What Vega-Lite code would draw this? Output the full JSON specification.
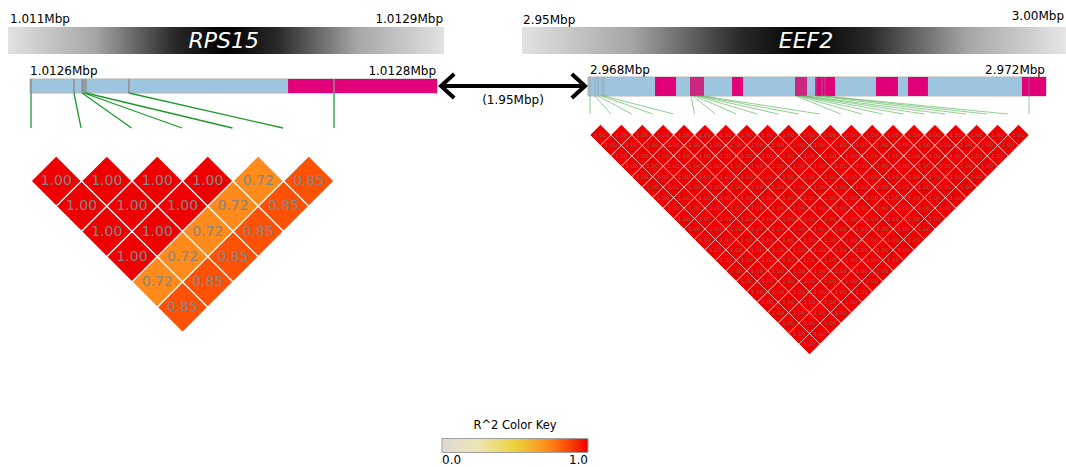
{
  "$schema": "https://vega.github.io/schema/vega-lite/v6.json",
  "width": 1066,
  "height": 467,
  "autosize": "none",
  "padding": 0,
  "background": "white",
  "config": {
    "view": {"stroke": null},
    "font": "DejaVu Sans",
    "axis": {"disable": true},
    "legend": {
      "orient": "none",
      "legendX": 442,
      "legendY": 420,
      "direction": "horizontal",
      "gradientLength": 146,
      "gradientThickness": 14,
      "gradientStrokeColor": "#a0a0a0",
      "gradientStrokeWidth": 1,
      "titleFontWeight": "normal",
      "titleFontSize": 11.5,
      "titleColor": "black",
      "titleAnchor": "middle",
      "titlePadding": 7,
      "labelFontSize": 12,
      "labelColor": "black",
      "labelAlign": "center",
      "labelOffset": 2
    }
  },
  "datasets": {
    "rps15Gene": [{"gene": "RPS15", "track": "gene", "start": 1.011, "end": 1.0129, "startLabel": "1.011Mbp", "endLabel": "1.0129Mbp"}],
    "eef2Gene": [{"gene": "EEF2", "track": "gene", "start": 2.95, "end": 3.0, "startLabel": "2.95Mbp", "endLabel": "3.00Mbp"}],
    "rps15Tx": [{"track": "tx", "start": 1.0126, "end": 1.0128, "startLabel": "1.0126Mbp", "endLabel": "1.0128Mbp"}],
    "rps15Exons": [{"track": "tx", "start": 1.0127268, "end": 1.0128}],
    "rps15Snps": [
      {"track": "tx", "snp": 1, "pos": 1.0126005, "ldpos": 1.0126005},
      {"track": "tx", "snp": 2, "pos": 1.0126216, "ldpos": 1.0126251},
      {"track": "tx", "snp": 3, "pos": 1.0126256, "ldpos": 1.0126499},
      {"track": "tx", "snp": 4, "pos": 1.0126265, "ldpos": 1.0126747},
      {"track": "tx", "snp": 5, "pos": 1.0126275, "ldpos": 1.0126995},
      {"track": "tx", "snp": 6, "pos": 1.0126486, "ldpos": 1.0127243},
      {"track": "tx", "snp": 7, "pos": 1.0127494, "ldpos": 1.0127494}
    ],
    "rps15Ld": [
      {"mid": 0.5, "gap": 1, "r2": 1.0}, {"mid": 1.5, "gap": 1, "r2": 1.0}, {"mid": 2.5, "gap": 1, "r2": 1.0},
      {"mid": 3.5, "gap": 1, "r2": 1.0}, {"mid": 4.5, "gap": 1, "r2": 0.72}, {"mid": 5.5, "gap": 1, "r2": 0.85},
      {"mid": 1, "gap": 2, "r2": 1.0}, {"mid": 2, "gap": 2, "r2": 1.0}, {"mid": 3, "gap": 2, "r2": 1.0},
      {"mid": 4, "gap": 2, "r2": 0.72}, {"mid": 5, "gap": 2, "r2": 0.85},
      {"mid": 1.5, "gap": 3, "r2": 1.0}, {"mid": 2.5, "gap": 3, "r2": 1.0}, {"mid": 3.5, "gap": 3, "r2": 0.72},
      {"mid": 4.5, "gap": 3, "r2": 0.85},
      {"mid": 2, "gap": 4, "r2": 1.0}, {"mid": 3, "gap": 4, "r2": 0.72}, {"mid": 4, "gap": 4, "r2": 0.85},
      {"mid": 2.5, "gap": 5, "r2": 0.72}, {"mid": 3.5, "gap": 5, "r2": 0.85},
      {"mid": 3, "gap": 6, "r2": 0.85}
    ],
    "eef2Tx": [{"track": "tx", "start": 2.968, "end": 2.972, "startLabel": "2.968Mbp", "endLabel": "2.972Mbp"}],
    "eef2Exons": [
      {"track": "tx", "start": 2.968585, "end": 2.968769},
      {"track": "tx", "start": 2.968891, "end": 2.969013},
      {"track": "tx", "start": 2.969258, "end": 2.969354},
      {"track": "tx", "start": 2.969808, "end": 2.969913},
      {"track": "tx", "start": 2.969983, "end": 2.970157},
      {"track": "tx", "start": 2.970515, "end": 2.970707},
      {"track": "tx", "start": 2.970795, "end": 2.970969},
      {"track": "tx", "start": 2.97179, "end": 2.972}
    ],
    "eef2Snps": [
      {"track": "tx", "snp": 1, "pos": 2.9680175, "ldpos": 2.9680175},
      {"track": "tx", "snp": 2, "pos": 2.9680611, "ldpos": 2.9682},
      {"track": "tx", "snp": 3, "pos": 2.9680873, "ldpos": 2.9683825},
      {"track": "tx", "snp": 4, "pos": 2.9681223, "ldpos": 2.9685651},
      {"track": "tx", "snp": 5, "pos": 2.9681397, "ldpos": 2.9687476},
      {"track": "tx", "snp": 6, "pos": 2.9688996, "ldpos": 2.9689301},
      {"track": "tx", "snp": 7, "pos": 2.968917, "ldpos": 2.9691127},
      {"track": "tx", "snp": 8, "pos": 2.9689345, "ldpos": 2.9692952},
      {"track": "tx", "snp": 9, "pos": 2.968952, "ldpos": 2.9694777},
      {"track": "tx", "snp": 10, "pos": 2.9689694, "ldpos": 2.9696603},
      {"track": "tx", "snp": 11, "pos": 2.9689869, "ldpos": 2.9698428},
      {"track": "tx", "snp": 12, "pos": 2.9690044, "ldpos": 2.9700253},
      {"track": "tx", "snp": 13, "pos": 2.9698166, "ldpos": 2.9702079},
      {"track": "tx", "snp": 14, "pos": 2.9698341, "ldpos": 2.9703904},
      {"track": "tx", "snp": 15, "pos": 2.9698515, "ldpos": 2.9705729},
      {"track": "tx", "snp": 16, "pos": 2.969869, "ldpos": 2.9707555},
      {"track": "tx", "snp": 17, "pos": 2.9698865, "ldpos": 2.970938},
      {"track": "tx", "snp": 18, "pos": 2.9699039, "ldpos": 2.9711205},
      {"track": "tx", "snp": 19, "pos": 2.9699913, "ldpos": 2.9713031},
      {"track": "tx", "snp": 20, "pos": 2.9700437, "ldpos": 2.9714856},
      {"track": "tx", "snp": 21, "pos": 2.9700699, "ldpos": 2.9716681},
      {"track": "tx", "snp": 22, "pos": 2.9718515, "ldpos": 2.9718515}
    ],
    "eef2Ld": [
      {"mid": 0.5, "gap": 1, "r2": 1.0}, {"mid": 1.5, "gap": 1, "r2": 1.0}, {"mid": 2.5, "gap": 1, "r2": 1.0}, {"mid": 3.5, "gap": 1, "r2": 1.0},
      {"mid": 4.5, "gap": 1, "r2": 1.0}, {"mid": 5.5, "gap": 1, "r2": 1.0}, {"mid": 6.5, "gap": 1, "r2": 1.0}, {"mid": 7.5, "gap": 1, "r2": 1.0},
      {"mid": 8.5, "gap": 1, "r2": 1.0}, {"mid": 9.5, "gap": 1, "r2": 1.0}, {"mid": 10.5, "gap": 1, "r2": 1.0}, {"mid": 11.5, "gap": 1, "r2": 1.0},
      {"mid": 12.5, "gap": 1, "r2": 1.0}, {"mid": 13.5, "gap": 1, "r2": 1.0}, {"mid": 14.5, "gap": 1, "r2": 1.0}, {"mid": 15.5, "gap": 1, "r2": 1.0},
      {"mid": 16.5, "gap": 1, "r2": 1.0}, {"mid": 17.5, "gap": 1, "r2": 1.0}, {"mid": 18.5, "gap": 1, "r2": 1.0}, {"mid": 19.5, "gap": 1, "r2": 1.0},
      {"mid": 20.5, "gap": 1, "r2": 1.0},
      {"mid": 1, "gap": 2, "r2": 1.0}, {"mid": 2, "gap": 2, "r2": 1.0}, {"mid": 3, "gap": 2, "r2": 1.0}, {"mid": 4, "gap": 2, "r2": 1.0},
      {"mid": 5, "gap": 2, "r2": 1.0}, {"mid": 6, "gap": 2, "r2": 1.0}, {"mid": 7, "gap": 2, "r2": 1.0}, {"mid": 8, "gap": 2, "r2": 1.0},
      {"mid": 9, "gap": 2, "r2": 1.0}, {"mid": 10, "gap": 2, "r2": 1.0}, {"mid": 11, "gap": 2, "r2": 1.0}, {"mid": 12, "gap": 2, "r2": 1.0},
      {"mid": 13, "gap": 2, "r2": 1.0}, {"mid": 14, "gap": 2, "r2": 1.0}, {"mid": 15, "gap": 2, "r2": 1.0}, {"mid": 16, "gap": 2, "r2": 1.0},
      {"mid": 17, "gap": 2, "r2": 1.0}, {"mid": 18, "gap": 2, "r2": 1.0}, {"mid": 19, "gap": 2, "r2": 1.0}, {"mid": 20, "gap": 2, "r2": 1.0},
      {"mid": 1.5, "gap": 3, "r2": 1.0}, {"mid": 2.5, "gap": 3, "r2": 1.0}, {"mid": 3.5, "gap": 3, "r2": 1.0}, {"mid": 4.5, "gap": 3, "r2": 1.0},
      {"mid": 5.5, "gap": 3, "r2": 1.0}, {"mid": 6.5, "gap": 3, "r2": 1.0}, {"mid": 7.5, "gap": 3, "r2": 1.0}, {"mid": 8.5, "gap": 3, "r2": 1.0},
      {"mid": 9.5, "gap": 3, "r2": 1.0}, {"mid": 10.5, "gap": 3, "r2": 1.0}, {"mid": 11.5, "gap": 3, "r2": 1.0}, {"mid": 12.5, "gap": 3, "r2": 1.0},
      {"mid": 13.5, "gap": 3, "r2": 1.0}, {"mid": 14.5, "gap": 3, "r2": 1.0}, {"mid": 15.5, "gap": 3, "r2": 1.0}, {"mid": 16.5, "gap": 3, "r2": 1.0},
      {"mid": 17.5, "gap": 3, "r2": 1.0}, {"mid": 18.5, "gap": 3, "r2": 1.0}, {"mid": 19.5, "gap": 3, "r2": 1.0},
      {"mid": 2, "gap": 4, "r2": 1.0}, {"mid": 3, "gap": 4, "r2": 1.0}, {"mid": 4, "gap": 4, "r2": 1.0}, {"mid": 5, "gap": 4, "r2": 1.0},
      {"mid": 6, "gap": 4, "r2": 1.0}, {"mid": 7, "gap": 4, "r2": 1.0}, {"mid": 8, "gap": 4, "r2": 1.0}, {"mid": 9, "gap": 4, "r2": 1.0},
      {"mid": 10, "gap": 4, "r2": 1.0}, {"mid": 11, "gap": 4, "r2": 1.0}, {"mid": 12, "gap": 4, "r2": 1.0}, {"mid": 13, "gap": 4, "r2": 1.0},
      {"mid": 14, "gap": 4, "r2": 1.0}, {"mid": 15, "gap": 4, "r2": 1.0}, {"mid": 16, "gap": 4, "r2": 1.0}, {"mid": 17, "gap": 4, "r2": 1.0},
      {"mid": 18, "gap": 4, "r2": 1.0}, {"mid": 19, "gap": 4, "r2": 1.0},
      {"mid": 2.5, "gap": 5, "r2": 1.0}, {"mid": 3.5, "gap": 5, "r2": 1.0}, {"mid": 4.5, "gap": 5, "r2": 1.0}, {"mid": 5.5, "gap": 5, "r2": 1.0},
      {"mid": 6.5, "gap": 5, "r2": 1.0}, {"mid": 7.5, "gap": 5, "r2": 1.0}, {"mid": 8.5, "gap": 5, "r2": 1.0}, {"mid": 9.5, "gap": 5, "r2": 1.0},
      {"mid": 10.5, "gap": 5, "r2": 1.0}, {"mid": 11.5, "gap": 5, "r2": 1.0}, {"mid": 12.5, "gap": 5, "r2": 1.0}, {"mid": 13.5, "gap": 5, "r2": 1.0},
      {"mid": 14.5, "gap": 5, "r2": 1.0}, {"mid": 15.5, "gap": 5, "r2": 1.0}, {"mid": 16.5, "gap": 5, "r2": 1.0}, {"mid": 17.5, "gap": 5, "r2": 1.0},
      {"mid": 18.5, "gap": 5, "r2": 1.0},
      {"mid": 3, "gap": 6, "r2": 1.0}, {"mid": 4, "gap": 6, "r2": 1.0}, {"mid": 5, "gap": 6, "r2": 1.0}, {"mid": 6, "gap": 6, "r2": 1.0},
      {"mid": 7, "gap": 6, "r2": 1.0}, {"mid": 8, "gap": 6, "r2": 1.0}, {"mid": 9, "gap": 6, "r2": 1.0}, {"mid": 10, "gap": 6, "r2": 1.0},
      {"mid": 11, "gap": 6, "r2": 1.0}, {"mid": 12, "gap": 6, "r2": 1.0}, {"mid": 13, "gap": 6, "r2": 1.0}, {"mid": 14, "gap": 6, "r2": 1.0},
      {"mid": 15, "gap": 6, "r2": 1.0}, {"mid": 16, "gap": 6, "r2": 1.0}, {"mid": 17, "gap": 6, "r2": 1.0}, {"mid": 18, "gap": 6, "r2": 1.0},
      {"mid": 3.5, "gap": 7, "r2": 1.0}, {"mid": 4.5, "gap": 7, "r2": 1.0}, {"mid": 5.5, "gap": 7, "r2": 1.0}, {"mid": 6.5, "gap": 7, "r2": 1.0},
      {"mid": 7.5, "gap": 7, "r2": 1.0}, {"mid": 8.5, "gap": 7, "r2": 1.0}, {"mid": 9.5, "gap": 7, "r2": 1.0}, {"mid": 10.5, "gap": 7, "r2": 1.0},
      {"mid": 11.5, "gap": 7, "r2": 1.0}, {"mid": 12.5, "gap": 7, "r2": 1.0}, {"mid": 13.5, "gap": 7, "r2": 1.0}, {"mid": 14.5, "gap": 7, "r2": 1.0},
      {"mid": 15.5, "gap": 7, "r2": 1.0}, {"mid": 16.5, "gap": 7, "r2": 1.0}, {"mid": 17.5, "gap": 7, "r2": 1.0},
      {"mid": 4, "gap": 8, "r2": 1.0}, {"mid": 5, "gap": 8, "r2": 1.0}, {"mid": 6, "gap": 8, "r2": 1.0}, {"mid": 7, "gap": 8, "r2": 1.0},
      {"mid": 8, "gap": 8, "r2": 1.0}, {"mid": 9, "gap": 8, "r2": 1.0}, {"mid": 10, "gap": 8, "r2": 1.0}, {"mid": 11, "gap": 8, "r2": 1.0},
      {"mid": 12, "gap": 8, "r2": 1.0}, {"mid": 13, "gap": 8, "r2": 1.0}, {"mid": 14, "gap": 8, "r2": 1.0}, {"mid": 15, "gap": 8, "r2": 1.0},
      {"mid": 16, "gap": 8, "r2": 1.0}, {"mid": 17, "gap": 8, "r2": 1.0},
      {"mid": 4.5, "gap": 9, "r2": 1.0}, {"mid": 5.5, "gap": 9, "r2": 1.0}, {"mid": 6.5, "gap": 9, "r2": 1.0}, {"mid": 7.5, "gap": 9, "r2": 1.0},
      {"mid": 8.5, "gap": 9, "r2": 1.0}, {"mid": 9.5, "gap": 9, "r2": 1.0}, {"mid": 10.5, "gap": 9, "r2": 1.0}, {"mid": 11.5, "gap": 9, "r2": 1.0},
      {"mid": 12.5, "gap": 9, "r2": 1.0}, {"mid": 13.5, "gap": 9, "r2": 1.0}, {"mid": 14.5, "gap": 9, "r2": 1.0}, {"mid": 15.5, "gap": 9, "r2": 1.0},
      {"mid": 16.5, "gap": 9, "r2": 1.0},
      {"mid": 5, "gap": 10, "r2": 1.0}, {"mid": 6, "gap": 10, "r2": 1.0}, {"mid": 7, "gap": 10, "r2": 1.0}, {"mid": 8, "gap": 10, "r2": 1.0},
      {"mid": 9, "gap": 10, "r2": 1.0}, {"mid": 10, "gap": 10, "r2": 1.0}, {"mid": 11, "gap": 10, "r2": 1.0}, {"mid": 12, "gap": 10, "r2": 1.0},
      {"mid": 13, "gap": 10, "r2": 1.0}, {"mid": 14, "gap": 10, "r2": 1.0}, {"mid": 15, "gap": 10, "r2": 1.0}, {"mid": 16, "gap": 10, "r2": 1.0},
      {"mid": 5.5, "gap": 11, "r2": 1.0}, {"mid": 6.5, "gap": 11, "r2": 1.0}, {"mid": 7.5, "gap": 11, "r2": 1.0}, {"mid": 8.5, "gap": 11, "r2": 1.0},
      {"mid": 9.5, "gap": 11, "r2": 1.0}, {"mid": 10.5, "gap": 11, "r2": 1.0}, {"mid": 11.5, "gap": 11, "r2": 1.0}, {"mid": 12.5, "gap": 11, "r2": 1.0},
      {"mid": 13.5, "gap": 11, "r2": 1.0}, {"mid": 14.5, "gap": 11, "r2": 1.0}, {"mid": 15.5, "gap": 11, "r2": 1.0},
      {"mid": 6, "gap": 12, "r2": 1.0}, {"mid": 7, "gap": 12, "r2": 1.0}, {"mid": 8, "gap": 12, "r2": 1.0}, {"mid": 9, "gap": 12, "r2": 1.0},
      {"mid": 10, "gap": 12, "r2": 1.0}, {"mid": 11, "gap": 12, "r2": 1.0}, {"mid": 12, "gap": 12, "r2": 1.0}, {"mid": 13, "gap": 12, "r2": 1.0},
      {"mid": 14, "gap": 12, "r2": 1.0}, {"mid": 15, "gap": 12, "r2": 1.0},
      {"mid": 6.5, "gap": 13, "r2": 1.0}, {"mid": 7.5, "gap": 13, "r2": 1.0}, {"mid": 8.5, "gap": 13, "r2": 1.0}, {"mid": 9.5, "gap": 13, "r2": 1.0},
      {"mid": 10.5, "gap": 13, "r2": 1.0}, {"mid": 11.5, "gap": 13, "r2": 1.0}, {"mid": 12.5, "gap": 13, "r2": 1.0}, {"mid": 13.5, "gap": 13, "r2": 1.0},
      {"mid": 14.5, "gap": 13, "r2": 1.0},
      {"mid": 7, "gap": 14, "r2": 1.0}, {"mid": 8, "gap": 14, "r2": 1.0}, {"mid": 9, "gap": 14, "r2": 1.0}, {"mid": 10, "gap": 14, "r2": 1.0},
      {"mid": 11, "gap": 14, "r2": 1.0}, {"mid": 12, "gap": 14, "r2": 1.0}, {"mid": 13, "gap": 14, "r2": 1.0}, {"mid": 14, "gap": 14, "r2": 1.0},
      {"mid": 7.5, "gap": 15, "r2": 1.0}, {"mid": 8.5, "gap": 15, "r2": 1.0}, {"mid": 9.5, "gap": 15, "r2": 1.0}, {"mid": 10.5, "gap": 15, "r2": 1.0},
      {"mid": 11.5, "gap": 15, "r2": 1.0}, {"mid": 12.5, "gap": 15, "r2": 1.0}, {"mid": 13.5, "gap": 15, "r2": 1.0},
      {"mid": 8, "gap": 16, "r2": 1.0}, {"mid": 9, "gap": 16, "r2": 1.0}, {"mid": 10, "gap": 16, "r2": 1.0}, {"mid": 11, "gap": 16, "r2": 1.0},
      {"mid": 12, "gap": 16, "r2": 1.0}, {"mid": 13, "gap": 16, "r2": 1.0},
      {"mid": 8.5, "gap": 17, "r2": 1.0}, {"mid": 9.5, "gap": 17, "r2": 1.0}, {"mid": 10.5, "gap": 17, "r2": 1.0}, {"mid": 11.5, "gap": 17, "r2": 1.0},
      {"mid": 12.5, "gap": 17, "r2": 1.0},
      {"mid": 9, "gap": 18, "r2": 1.0}, {"mid": 10, "gap": 18, "r2": 1.0}, {"mid": 11, "gap": 18, "r2": 1.0}, {"mid": 12, "gap": 18, "r2": 1.0},
      {"mid": 9.5, "gap": 19, "r2": 1.0}, {"mid": 10.5, "gap": 19, "r2": 1.0}, {"mid": 11.5, "gap": 19, "r2": 1.0},
      {"mid": 10, "gap": 20, "r2": 1.0}, {"mid": 11, "gap": 20, "r2": 1.0},
      {"mid": 10.5, "gap": 21, "r2": 1.0}
    ],
    "genomicGap": [{"track": "gap", "from": 1.0128, "to": 2.968, "label": "(1.95Mbp)"}]
  },
  "resolve": {"scale": {"x": "independent", "y": "independent"}},
  "layer": [
    {
      "data": {"name": "rps15Gene"},
      "encoding": {
        "x": {"field": "start", "type": "quantitative", "scale": {"domain": [1.011, 1.0129], "range": [8, 444], "zero": false, "nice": false}},
        "y": {"field": "track", "type": "nominal", "scale": {"type": "band", "domain": ["gene"], "range": [27, 54], "paddingInner": 0, "paddingOuter": 0}}
      },
      "layer": [
        {
          "mark": {"type": "rect", "color": {"gradient": "linear", "x1": 0, "y1": 0, "x2": 1, "y2": 0, "stops": [
            {"offset": 0, "color": "#e2e2e2"}, {"offset": 0.2, "color": "#a6a6a6"}, {"offset": 0.38, "color": "#2a2a2a"},
            {"offset": 0.5, "color": "#000000"}, {"offset": 0.62, "color": "#2a2a2a"}, {"offset": 0.8, "color": "#a6a6a6"}, {"offset": 1, "color": "#e2e2e2"}]}},
          "encoding": {"x2": {"field": "end"}}
        },
        {
          "mark": {"type": "text", "fontStyle": "italic", "fontSize": 22, "color": "white", "baseline": "middle", "align": "center"},
          "encoding": {"x": {"datum": 1.01194, "type": "quantitative"}, "text": {"field": "gene"}}
        },
        {
          "mark": {"type": "text", "fontSize": 12, "align": "left", "baseline": "alphabetic", "dx": 2, "dy": -4, "color": "black"},
          "encoding": {
            "y": {"field": "track", "type": "nominal", "bandPosition": 0, "scale": {"type": "band", "domain": ["gene"], "range": [27, 54], "paddingInner": 0, "paddingOuter": 0}},
            "text": {"field": "startLabel"}
          }
        },
        {
          "mark": {"type": "text", "fontSize": 12, "align": "right", "baseline": "alphabetic", "dx": -1, "dy": -4, "color": "black"},
          "encoding": {
            "x": {"field": "end", "type": "quantitative"},
            "y": {"field": "track", "type": "nominal", "bandPosition": 0, "scale": {"type": "band", "domain": ["gene"], "range": [27, 54], "paddingInner": 0, "paddingOuter": 0}},
            "text": {"field": "endLabel"}
          }
        }
      ]
    },
    {
      "data": {"name": "eef2Gene"},
      "encoding": {
        "x": {"field": "start", "type": "quantitative", "scale": {"domain": [2.95, 3.0], "range": [522, 1066], "zero": false, "nice": false}},
        "y": {"field": "track", "type": "nominal", "scale": {"type": "band", "domain": ["gene"], "range": [27, 54], "paddingInner": 0, "paddingOuter": 0}}
      },
      "layer": [
        {
          "mark": {"type": "rect", "color": {"gradient": "linear", "x1": 0, "y1": 0, "x2": 1, "y2": 0, "stops": [
            {"offset": 0, "color": "#e2e2e2"}, {"offset": 0.2, "color": "#a6a6a6"}, {"offset": 0.4, "color": "#2a2a2a"},
            {"offset": 0.52, "color": "#000000"}, {"offset": 0.64, "color": "#2a2a2a"}, {"offset": 0.82, "color": "#a6a6a6"}, {"offset": 1, "color": "#e6e6e6"}]}},
          "encoding": {"x2": {"field": "end"}}
        },
        {
          "mark": {"type": "text", "fontStyle": "italic", "fontSize": 22, "color": "white", "baseline": "middle", "align": "center"},
          "encoding": {"x": {"datum": 2.9761, "type": "quantitative"}, "text": {"field": "gene"}}
        },
        {
          "mark": {"type": "text", "fontSize": 12, "align": "left", "baseline": "alphabetic", "dx": 1, "dy": -3, "color": "black"},
          "encoding": {
            "y": {"field": "track", "type": "nominal", "bandPosition": 0, "scale": {"type": "band", "domain": ["gene"], "range": [27, 54], "paddingInner": 0, "paddingOuter": 0}},
            "text": {"field": "startLabel"}
          }
        },
        {
          "mark": {"type": "text", "fontSize": 12, "align": "right", "baseline": "alphabetic", "dx": -2, "dy": -7, "color": "black"},
          "encoding": {
            "x": {"field": "end", "type": "quantitative"},
            "y": {"field": "track", "type": "nominal", "bandPosition": 0, "scale": {"type": "band", "domain": ["gene"], "range": [27, 54], "paddingInner": 0, "paddingOuter": 0}},
            "text": {"field": "endLabel"}
          }
        }
      ]
    },
    {
      "encoding": {
        "x": {"field": "start", "type": "quantitative", "scale": {"domain": [1.0126, 1.0128], "range": [30, 437], "zero": false, "nice": false}},
        "y": {"field": "track", "type": "nominal", "scale": {"type": "band", "domain": ["tx"], "range": [79, 93], "paddingInner": 0, "paddingOuter": 0}}
      },
      "layer": [
        {
          "data": {"name": "rps15Tx"},
          "mark": {"type": "rect", "color": "#9ec5e0", "stroke": "#b3b3b3", "strokeWidth": 1},
          "encoding": {"x2": {"field": "end"}}
        },
        {
          "data": {"name": "rps15Exons"},
          "mark": {"type": "rect", "color": "#e2007a"},
          "encoding": {"x2": {"field": "end"}}
        },
        {
          "data": {"name": "rps15Snps"},
          "mark": {"type": "tick", "orient": "vertical", "color": "#8e8e8e", "thickness": 1.5, "size": 14, "opacity": 1},
          "encoding": {"x": {"field": "pos", "type": "quantitative"}}
        },
        {
          "data": {"name": "rps15Tx"},
          "mark": {"type": "text", "fontSize": 12, "align": "left", "baseline": "alphabetic", "dy": -4, "color": "black"},
          "encoding": {
            "y": {"field": "track", "type": "nominal", "bandPosition": 0, "scale": {"type": "band", "domain": ["tx"], "range": [79, 93], "paddingInner": 0, "paddingOuter": 0}},
            "text": {"field": "startLabel"}
          }
        },
        {
          "data": {"name": "rps15Tx"},
          "mark": {"type": "text", "fontSize": 12, "align": "right", "baseline": "alphabetic", "dx": -1, "dy": -4, "color": "black"},
          "encoding": {
            "x": {"field": "end", "type": "quantitative"},
            "y": {"field": "track", "type": "nominal", "bandPosition": 0, "scale": {"type": "band", "domain": ["tx"], "range": [79, 93], "paddingInner": 0, "paddingOuter": 0}},
            "text": {"field": "endLabel"}
          }
        }
      ]
    },
    {
      "data": {"name": "rps15Snps"},
      "mark": {"type": "rule", "color": "#1f9a2c", "strokeWidth": 1.3},
      "encoding": {
        "x": {"field": "pos", "type": "quantitative", "scale": {"domain": [1.0126, 1.0128], "range": [30, 437], "zero": false, "nice": false}},
        "x2": {"field": "ldpos"},
        "y": {"datum": "snp", "type": "nominal", "scale": {"type": "point", "domain": ["snp", "ld"], "range": [93, 128], "padding": 0}},
        "y2": {"datum": "ld"}
      }
    },
    {
      "data": {"name": "rps15Ld"},
      "encoding": {
        "x": {"field": "mid", "type": "quantitative", "scale": {"domain": [0, 6], "range": [31, 334], "zero": false, "nice": false}},
        "y": {"field": "gap", "type": "quantitative", "scale": {"domain": [1, 6], "range": [181, 307.25], "zero": false, "nice": false}}
      },
      "layer": [
        {
          "mark": {"type": "point", "shape": "diamond", "filled": true, "size": 2550, "stroke": "white", "strokeWidth": 1.2, "opacity": 1},
          "encoding": {
            "color": {"field": "r2", "type": "quantitative",
              "scale": {"domain": [0, 0.25, 0.5, 0.72, 0.85, 1], "range": ["#dddbd4", "#efe5b3", "#ead23c", "#fe8b1b", "#fd5105", "#ef0000"], "interpolate": "rgb"},
              "legend": {"title": "R^2 Color Key", "values": [0, 1], "format": ".1f", "labelAlign": "center",
                "encode": {"labels": {"update": {"align": {"value": "center"}}}}}}
          }
        },
        {
          "mark": {"type": "text", "fontSize": 14, "color": "#868686", "baseline": "middle", "align": "center"},
          "encoding": {"text": {"field": "r2", "type": "quantitative", "format": ".2f"}}
        }
      ]
    },
    {
      "encoding": {
        "x": {"field": "start", "type": "quantitative", "scale": {"domain": [2.968, 2.972], "range": [588, 1046], "zero": false, "nice": false}},
        "y": {"field": "track", "type": "nominal", "scale": {"type": "band", "domain": ["tx"], "range": [77, 96], "paddingInner": 0, "paddingOuter": 0}}
      },
      "layer": [
        {
          "data": {"name": "eef2Tx"},
          "mark": {"type": "rect", "color": "#9ec5e0", "stroke": "#b3b3b3", "strokeWidth": 1},
          "encoding": {"x2": {"field": "end"}}
        },
        {
          "data": {"name": "eef2Exons"},
          "mark": {"type": "rect", "color": "#e2007a"},
          "encoding": {"x2": {"field": "end"}}
        },
        {
          "data": {"name": "eef2Snps"},
          "mark": {"type": "tick", "orient": "vertical", "color": "#909090", "thickness": 0.6, "size": 19, "opacity": 0.9},
          "encoding": {"x": {"field": "pos", "type": "quantitative"}}
        },
        {
          "data": {"name": "eef2Tx"},
          "mark": {"type": "text", "fontSize": 12, "align": "left", "baseline": "alphabetic", "dx": 2, "dy": -3, "color": "black"},
          "encoding": {
            "y": {"field": "track", "type": "nominal", "bandPosition": 0, "scale": {"type": "band", "domain": ["tx"], "range": [77, 96], "paddingInner": 0, "paddingOuter": 0}},
            "text": {"field": "startLabel"}
          }
        },
        {
          "data": {"name": "eef2Tx"},
          "mark": {"type": "text", "fontSize": 12, "align": "right", "baseline": "alphabetic", "dx": -1, "dy": -3, "color": "black"},
          "encoding": {
            "x": {"field": "end", "type": "quantitative"},
            "y": {"field": "track", "type": "nominal", "bandPosition": 0, "scale": {"type": "band", "domain": ["tx"], "range": [77, 96], "paddingInner": 0, "paddingOuter": 0}},
            "text": {"field": "endLabel"}
          }
        }
      ]
    },
    {
      "data": {"name": "eef2Snps"},
      "mark": {"type": "rule", "color": "#5cb85c", "strokeWidth": 0.8, "opacity": 0.85},
      "encoding": {
        "x": {"field": "pos", "type": "quantitative", "scale": {"domain": [2.968, 2.972], "range": [588, 1046], "zero": false, "nice": false}},
        "x2": {"field": "ldpos"},
        "y": {"datum": "snp", "type": "nominal", "scale": {"type": "point", "domain": ["snp", "ld"], "range": [96, 114], "padding": 0}},
        "y2": {"datum": "ld"}
      }
    },
    {
      "data": {"name": "eef2Ld"},
      "encoding": {
        "x": {"field": "mid", "type": "quantitative", "scale": {"domain": [0, 21], "range": [590, 1029], "zero": false, "nice": false}},
        "y": {"field": "gap", "type": "quantitative", "scale": {"domain": [1, 21], "range": [135, 344], "zero": false, "nice": false}}
      },
      "layer": [
        {
          "mark": {"type": "point", "shape": "diamond", "filled": true, "size": 437, "stroke": "white", "strokeWidth": 0.7, "strokeOpacity": 0.8, "opacity": 1},
          "encoding": {
            "color": {"field": "r2", "type": "quantitative",
              "scale": {"domain": [0, 0.25, 0.5, 0.72, 0.85, 1], "range": ["#dddbd4", "#efe5b3", "#ead23c", "#fe8b1b", "#fd5105", "#ef0000"], "interpolate": "rgb"},
              "legend": {"title": "R^2 Color Key", "values": [0, 1], "format": ".1f", "labelAlign": "center",
                "encode": {"labels": {"update": {"align": {"value": "center"}}}}}}
          }
        },
        {
          "mark": {"type": "text", "fontSize": 5.5, "color": "#8a6a6a", "opacity": 0.9, "baseline": "middle", "align": "center"},
          "encoding": {"text": {"field": "r2", "type": "quantitative", "format": ".2f"}}
        }
      ]
    },
    {
      "data": {"name": "genomicGap"},
      "encoding": {
        "x": {"field": "from", "type": "quantitative", "scale": {"domain": [1.0128, 2.968], "range": [441, 585], "zero": false, "nice": false}},
        "y": {"field": "track", "type": "nominal", "scale": {"type": "band", "domain": ["gap"], "range": [79, 93], "paddingInner": 0, "paddingOuter": 0}}
      },
      "layer": [
        {
          "mark": {"type": "rule", "color": "black", "strokeWidth": 4},
          "encoding": {"x2": {"field": "to"}}
        },
        {
          "mark": {"type": "point", "shape": "M 1.1 -1 L 0 0 L 1.1 1", "filled": false, "color": "black", "strokeWidth": 4, "size": 576, "opacity": 1, "strokeJoin": "miter"}
        },
        {
          "mark": {"type": "point", "shape": "M -1.1 -1 L 0 0 L -1.1 1", "filled": false, "color": "black", "strokeWidth": 4, "size": 576, "opacity": 1, "strokeJoin": "miter"},
          "encoding": {"x": {"field": "to", "type": "quantitative"}}
        },
        {
          "mark": {"type": "text", "fontSize": 12, "baseline": "top", "align": "center", "dy": 2, "color": "black"},
          "encoding": {
            "x": {"datum": 1.9904, "type": "quantitative"},
            "y": {"field": "track", "type": "nominal", "bandPosition": 1, "scale": {"type": "band", "domain": ["gap"], "range": [79, 93], "paddingInner": 0, "paddingOuter": 0}},
            "text": {"field": "label"}
          }
        }
      ]
    }
  ]
}
